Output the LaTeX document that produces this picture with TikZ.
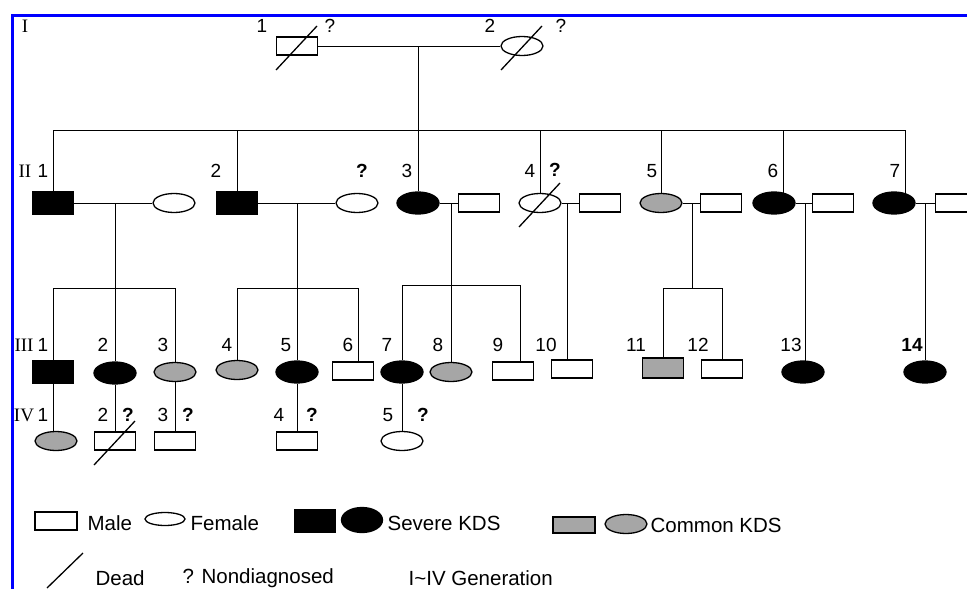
\documentclass[tikz,border=0pt]{standalone}
\usepackage{fontspec}
\setmainfont{Liberation Sans}
\newfontfamily\genfont{Liberation Serif}
\usetikzlibrary{shapes.geometric}
\usetikzlibrary{backgrounds}

\newcommand{\deadmark}[1]{\draw ([shift={(-21,24)}]#1.center) -- ([shift={(20,-20)}]#1.center);}

\begin{document}
\begin{tikzpicture}[x=1pt,y=-1pt,line width=1.3pt,
    every node/.style={font=\fontsize{19}{20}\selectfont},
    male/.style={draw,rectangle,fill=white,minimum width=41pt,minimum height=18pt,inner sep=0pt},
    female/.style={draw,ellipse,fill=white,minimum width=42pt,minimum height=19pt,inner sep=0pt},
    severe/.style={fill=black,minimum height=22pt},
    common/.style={fill=black!35},
    num/.style={inner sep=0pt},
    qm/.style={inner sep=0pt,font=\bfseries\fontsize{19}{20}\selectfont},
    gen/.style={inner sep=0pt,font=\genfont\fontsize{19}{20}\selectfont},
    key/.style={inner sep=0pt,anchor=west,font=\fontsize{20.5}{22}\selectfont}]

    \useasboundingbox (0,0) rectangle (967,589);
    \clip (0,0) rectangle (967,589);

    % frame
    \draw[blue,line width=3pt] (12,589) -- (12,15) -- (967,15);

    % generation I
    \node[male]   (I1) at (297,46) {};
    \node[female] (I2) at (522,46) {};

    % generation II
    \node[male,severe]    (II1) at (53,203)  {};
    \node[female]         (W1)  at (174,203) {};
    \node[male,severe]    (II2) at (237,203) {};
    \node[female]         (W2)  at (357,203) {};
    \node[female,severe]  (II3) at (418,203) {};
    \node[male]           (H3)  at (479,203) {};
    \node[female]         (II4) at (540,203) {};
    \node[male]           (H4)  at (600,203) {};
    \node[female,common]  (II5) at (661,203) {};
    \node[male]           (H5)  at (721,203) {};
    \node[female,severe]  (II6) at (774,203) {};
    \node[male]           (H6)  at (833,203) {};
    \node[female,severe]  (II7) at (894,203) {};
    \node[male]           (H7)  at (956,203) {};

    % generation III
    \node[male,severe]    (III1)  at (53,372)  {};
    \node[female,severe]  (III2)  at (115,373) {};
    \node[female,common]  (III3)  at (175,372) {};
    \node[female,common]  (III4)  at (237,370) {};
    \node[female,severe]  (III5)  at (297,372) {};
    \node[male]           (III6)  at (353,371) {};
    \node[female,severe]  (III7)  at (402,372) {};
    \node[female,common]  (III8)  at (451,372) {};
    \node[male]           (III9)  at (513,371) {};
    \node[male]           (III10) at (572,369) {};
    \node[male,common,minimum height=20pt] (III11) at (663,368) {};
    \node[male]           (III12) at (722,369) {};
    \node[female,severe]  (III13) at (803,372) {};
    \node[female,severe]  (III14) at (925,372) {};

    % generation IV
    \node[female,common] (IV1) at (56,441)  {};
    \node[male]          (IV2) at (115,441) {};
    \node[male]          (IV3) at (175,441) {};
    \node[male]          (IV4) at (297,441) {};
    \node[female]        (IV5) at (402,441) {};

    % points on the lines
    \coordinate (dI)  at (418,46);
    \coordinate (sibL) at (53,130);
    \coordinate (sibR) at (905,130);
    \coordinate (s6)  at (783,130);
    \coordinate (m1)  at (115,203);
    \coordinate (m2)  at (297,203);
    \coordinate (m3)  at (451,203);
    \coordinate (m4)  at (567,203);
    \coordinate (m5)  at (692,203);
    \coordinate (m6)  at (805,203);
    \coordinate (m7)  at (925,203);
    \coordinate (f1)  at (115,288);
    \coordinate (f2)  at (297,288);
    \coordinate (f2R) at (358,288);
    \coordinate (f3L) at (402,285);
    \coordinate (f3R) at (520,285);
    \coordinate (f5)  at (692,288);

    \begin{scope}[on background layer]
        \draw (I1) -- (I2);
        \draw (dI) -- (II3);
        \draw (sibL) -- (sibR);
        \draw (sibL) -- (II1);
        \draw (II2 |- sibL) -- (II2);
        \draw (II4 |- sibL) -- (II4);
        \draw (II5 |- sibL) -- (II5);
        \draw (s6) -- (s6 |- II6);
        \draw (sibR) -- (sibR |- II7);

        \draw (II1) -- (W1);
        \draw (II2) -- (W2);
        \draw (II3) -- (H3);
        \draw (II4) -- (H4);
        \draw (II5) -- (H5);
        \draw (II6) -- (H6);
        \draw (II7) -- (H7);

        \draw (m1) -- (III2);
        \draw (III1 |- f1) -- (III3 |- f1);
        \draw (III1 |- f1) -- (III1);
        \draw (III3 |- f1) -- (III3);

        \draw (m2) -- (III5);
        \draw (III4 |- f2) -- (f2R);
        \draw (III4 |- f2) -- (III4);
        \draw (f2R) -- (f2R |- III6);

        \draw (m3) -- (III8);
        \draw (f3L) -- (f3R);
        \draw (f3L) -- (III7);
        \draw (f3R) -- (f3R |- III9);

        \draw (m4) -- (m4 |- III10);

        \draw (m5) -- (f5);
        \draw (III11 |- f5) -- (III12 |- f5);
        \draw (III11 |- f5) -- (III11);
        \draw (III12 |- f5) -- (III12);

        \draw (m6) -- (m6 |- III13);
        \draw (m7) -- (III14);

        \draw (III1) -- (III1 |- IV1);
        \draw (III2) -- (IV2);
        \draw (III3) -- (IV3);
        \draw (III5) -- (IV4);
        \draw (III7) -- (IV5);
    \end{scope}

    % dead
    \deadmark{I1}
    \deadmark{I2}
    \deadmark{II4}
    \deadmark{IV2}

    % generation labels
    \node[gen] (gI)   at (25,26)  {I};
    \node[gen] (gII)  at (25,171) {II};
    \node[gen] (gIII) at (24,345) {III};
    \node[gen] (gIV)  at (24,415) {IV};

    % numbers
    \node[num] (nI1) at (262,26) {1};
    \node[num] (qI1) at (330,26) {?};
    \node[num] (nI2) at (490,26) {2};
    \node[num] (qI2) at (561,26) {?};

    \node[num] (nII1) at (43,171)  {1};
    \node[num] (nII2) at (216,171) {2};
    \node[qm]  (qW2)  at (362,171) {?};
    \node[num] (nII3) at (407,171) {3};
    \node[num] (nII4) at (530,171) {4};
    \node[qm]  (qII4) at (555,170) {?};
    \node[num] (nII5) at (652,171) {5};
    \node[num] (nII6) at (773,171) {6};
    \node[num] (nII7) at (895,171) {7};

    \node[num] (nIII1)  at (43,345)  {1};
    \node[num] (nIII2)  at (103,345) {2};
    \node[num] (nIII3)  at (163,345) {3};
    \node[num] (nIII4)  at (227,345) {4};
    \node[num] (nIII5)  at (286,345) {5};
    \node[num] (nIII6)  at (348,345) {6};
    \node[num] (nIII7)  at (387,345) {7};
    \node[num] (nIII8)  at (438,345) {8};
    \node[num] (nIII9)  at (498,345) {9};
    \node[num] (nIII10) at (546,345) {10};
    \node[num] (nIII11) at (636,345) {11};
    \node[num] (nIII12) at (698,345) {12};
    \node[num] (nIII13) at (791,345) {13};
    \node[qm]  (nIII14) at (912,345) {14};

    \node[num] (nIV1) at (43,415)  {1};
    \node[num] (nIV2) at (103,415) {2};
    \node[qm]  (qIV2) at (128,415) {?};
    \node[num] (nIV3) at (163,415) {3};
    \node[qm]  (qIV3) at (188,415) {?};
    \node[num] (nIV4) at (279,415) {4};
    \node[qm]  (qIV4) at (312,415) {?};
    \node[num] (nIV5) at (388,415) {5};
    \node[qm]  (qIV5) at (423,415) {?};

    % key
    \node[male,minimum width=42pt] (kmale) at (56,521) {};
    \node[key] (tmale) at (87,523) {Male};
    \node[female,minimum width=40pt,minimum height=13pt] (kfemale) at (165,519) {};
    \node[key] (tfemale) at (190,523) {Female};
    \node[male,severe,minimum width=40pt] (ksevm) at (315,521) {};
    \node[female,severe,minimum width=41pt,minimum height=25pt] (ksevf) at (362,520) {};
    \node[key] (tsevere) at (387,523) {Severe KDS};
    \node[male,common,minimum width=42pt,minimum height=16pt] (kcomm) at (574,525) {};
    \node[female,common] (kcomf) at (626,524) {};
    \node[key] (tcommon) at (650,525) {Common KDS};

    \coordinate (kd1) at (47,588);
    \coordinate (kd2) at (83,553);
    \draw (kd1) -- (kd2);
    \node[key] (tdead) at (95,578) {Dead};
    \node[key] (tnodiag) at (182,578) {? Nondiagnosed};
    \node[key] (tgen) at (408,578) {I\textasciitilde IV Generation};

\end{tikzpicture}
\end{document}
